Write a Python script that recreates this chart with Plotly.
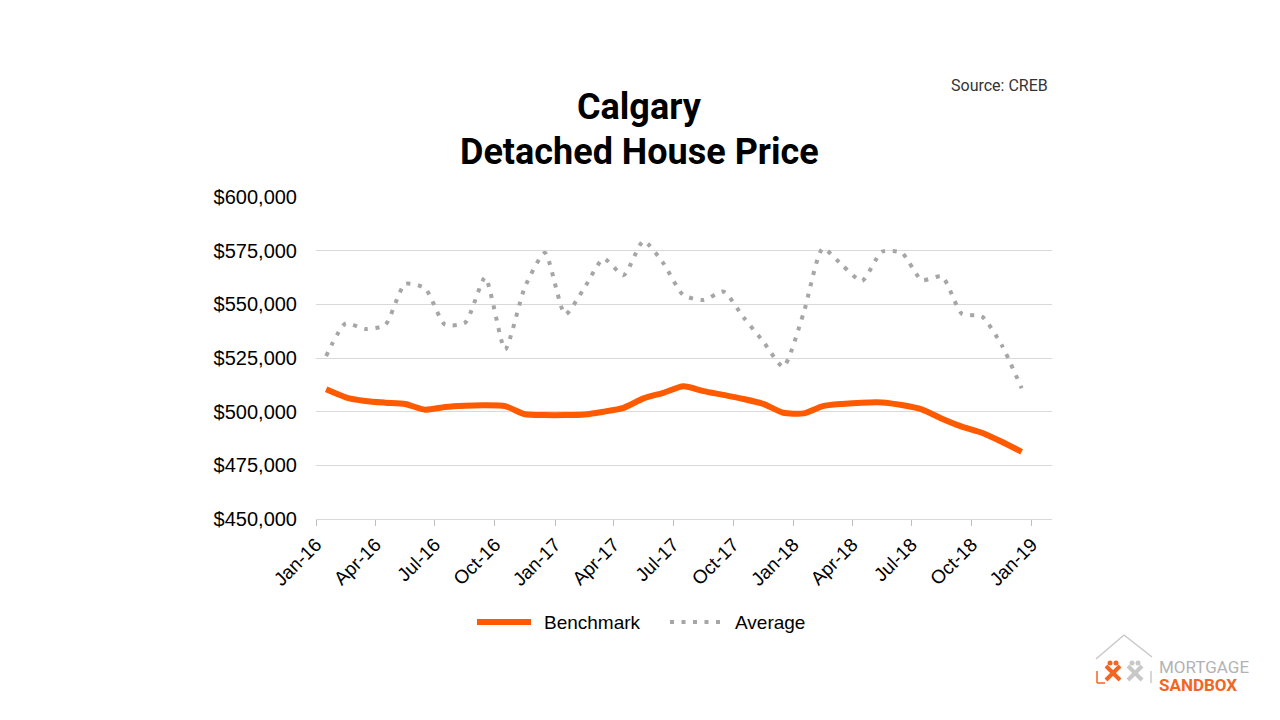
import plotly.graph_objects as go
import pandas as pd

months = pd.date_range("2016-01-01", "2018-12-01", freq="MS").strftime("%Y-%m-%d").tolist()

benchmark = [510400, 506700, 505000, 504200, 503600, 500900, 502200, 502800, 503000, 502600,
             498800, 498400, 498400, 498700, 500000, 501800, 506200, 508800, 511800, 509600,
             507800, 505900, 503600, 499500, 499200, 502600, 503600, 504200, 504300, 503100,
             501100, 496700, 493000, 490200, 486000, 481300]

average = [525900, 541100, 538500, 540400, 559500, 557500, 540500, 541500, 562500, 529000,
           558200, 574000, 545300, 557700, 571300, 563600, 579500, 569100, 554300, 552000,
           555900, 544000, 532600, 520900, 545800, 576000, 568300, 560900, 574500, 574000,
           561300, 563000, 545600, 544400, 531000, 510900]

tick_vals = pd.date_range("2016-01-01", "2019-01-01", freq="3MS").strftime("%Y-%m-%d").tolist()
tick_text = ["Jan-16", "Apr-16", "Jul-16", "Oct-16", "Jan-17", "Apr-17", "Jul-17",
             "Oct-17", "Jan-18", "Apr-18", "Jul-18", "Oct-18", "Jan-19"]

series_names = ["Benchmark", "Average"]

ORANGE = "#FF5A00"
GRAY = "#A6A6A6"
DOTS = "4px,7.5px"

fig = go.Figure()
fig.add_trace(go.Scatter(
    x=months, y=benchmark, name=series_names[0], mode="lines",
    xperiod="M1", xperiodalignment="middle", showlegend=False,
    line=dict(color=ORANGE, width=6, shape="spline", smoothing=0.6),
))
fig.add_trace(go.Scatter(
    x=months, y=average, name=series_names[1], mode="lines",
    xperiod="M1", xperiodalignment="middle", showlegend=False,
    line=dict(color=GRAY, width=4, shape="spline", smoothing=0.6, dash=DOTS),
))

# page offset (body margin) of 8px
OFF = 8
L, R, T, B = 316, 1052, 197, 519   # screen coords of the plot area
W, H = 1280 - 2 * OFF, 720 - 2 * OFF

def px(x):
    return (x - L) / (R - L)

def py(y):
    return (B - y) / (B - T)

fig.update_layout(
    width=W, height=H,
    margin=dict(l=L - OFF, r=W - (R - OFF), t=T - OFF, b=H - (B - OFF), autoexpand=False),
    paper_bgcolor="white", plot_bgcolor="white",
    font=dict(family="Liberation Sans, Arial", color="#000000"),
    showlegend=False,
    xaxis=dict(
        type="date", range=["2016-01-01", "2019-02-01"],
        tickvals=tick_vals, ticktext=tick_text, tickangle=-45,
        tickfont=dict(size=19, color="#000000"),
        showgrid=False, showline=True, linecolor="#D9D9D9", linewidth=1,
        ticks="outside", ticklen=6, tickcolor="#BFBFBF", zeroline=False,
    ),
    yaxis=dict(
        range=[450000, 600000], dtick=25000, tickformat="$,.0f",
        tickfont=dict(size=20, color="#000000"),
        showgrid=True, gridcolor="#D9D9D9", gridwidth=1,
        showline=False, zeroline=False, ticks="", ticklabelstandoff=18,
    ),
)

TITLE_FONT = "Roboto, Liberation Sans"
annotations = [
    dict(text="<b>Calgary</b>", x=px(639), y=py(107), xref="paper", yref="paper",
         showarrow=False, xanchor="center", yanchor="middle",
         font=dict(family=TITLE_FONT, size=36, color="#000000")),
    dict(text="<b>Detached House Price</b>", x=px(639), y=py(152), xref="paper", yref="paper",
         showarrow=False, xanchor="center", yanchor="middle",
         font=dict(family=TITLE_FONT, size=36, color="#000000")),
    dict(text="Source: CREB", x=px(1050), y=py(85), xref="paper", yref="paper",
         showarrow=False, xanchor="right", yanchor="middle",
         font=dict(family=TITLE_FONT, size=16, color="#333333")),
    # legend labels
    dict(text=series_names[0], x=px(542), y=py(622), xref="paper", yref="paper",
         showarrow=False, xanchor="left", yanchor="middle",
         font=dict(size=19, color="#000000")),
    dict(text=series_names[1], x=px(733), y=py(622), xref="paper", yref="paper",
         showarrow=False, xanchor="left", yanchor="middle",
         font=dict(size=19, color="#000000")),
    # logo text
    dict(text="MORTGAGE", x=px(1157), y=py(667), xref="paper", yref="paper",
         showarrow=False, xanchor="left", yanchor="middle",
         font=dict(family="Roboto", size=17, color="#B3B3B3")),
    dict(text="<b>SANDBOX</b>", x=px(1157), y=py(685), xref="paper", yref="paper",
         showarrow=False, xanchor="left", yanchor="middle",
         font=dict(family="Roboto", size=17, color="#F26522")),
]
fig.update_layout(annotations=annotations)

shapes = []
def seg(x0, y0, x1, y1, color, width, dash="solid"):
    shapes.append(dict(type="line", xref="paper", yref="paper",
                       x0=px(x0), y0=py(y0), x1=px(x1), y1=py(y1),
                       line=dict(color=color, width=width, dash=dash)))

def dot(cx, cy, r, color):
    shapes.append(dict(type="circle", xref="paper", yref="paper",
                       x0=px(cx - r), y0=py(cy - r), x1=px(cx + r), y1=py(cy + r),
                       fillcolor=color, line=dict(width=0)))

# legend symbols
seg(477, 622, 531, 622, ORANGE, 6)
seg(670, 622, 722, 622, GRAY, 4, DOTS)

LOGO_GRAY = "#C8C8C8"
LOGO_OR = "#F26522"
# roof
seg(1096, 659, 1124, 635, LOGO_GRAY, 1.5)
seg(1124, 635, 1152, 657, LOGO_GRAY, 1.5)
# brackets
seg(1097, 671, 1097, 683, LOGO_OR, 1.5)
seg(1097, 683, 1105, 683, LOGO_OR, 1.5)
seg(1151, 671, 1151, 683, LOGO_GRAY, 1.5)
# gray X
seg(1128, 666, 1142, 680, LOGO_GRAY, 4)
seg(1142, 666, 1128, 680, LOGO_GRAY, 4)
dot(1132, 663, 2.5, LOGO_GRAY)
dot(1138, 663, 2.5, LOGO_GRAY)
# orange X
seg(1106, 666, 1120, 680, LOGO_OR, 4)
seg(1120, 666, 1106, 680, LOGO_OR, 4)
dot(1110, 663, 2.5, LOGO_OR)
dot(1116, 663, 2.5, LOGO_OR)
fig.update_layout(shapes=shapes)

fig.write_html("out.html")
